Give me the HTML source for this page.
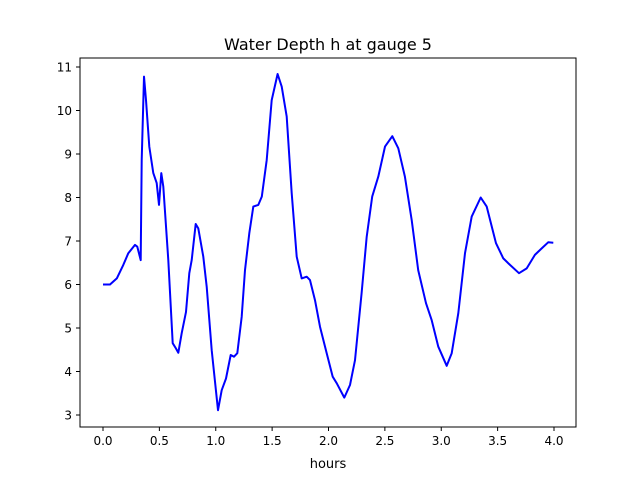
<!DOCTYPE html>
<html><head><meta charset="utf-8"><style>
body{margin:0;background:#fff}
svg text{font-family:"DejaVu Sans","Liberation Sans",sans-serif;fill:#000}
</style></head><body>
<svg id="chart" width="640" height="480" xmlns="http://www.w3.org/2000/svg">
<rect width="640" height="480" fill="#fff"/>
<text x="328" y="50" font-size="16" text-anchor="middle">Water Depth h at gauge 5</text>
<text x="328" y="468" font-size="13" text-anchor="middle">hours</text>
<g id="ticks"></g>
<polyline id="line" fill="none" stroke="#0000ff" stroke-width="2" stroke-linejoin="round"/>
<rect x="80" y="58" width="496" height="369" fill="none" stroke="#000" stroke-width="1"/>
</svg>
<script>
const hours=[0,0.062,0.122,0.18,0.224,0.284,0.304,0.334,0.343,0.364,0.381,0.411,0.446,0.476,0.497,0.517,0.535,0.579,0.618,0.647,0.668,0.698,0.736,0.765,0.787,0.822,0.845,0.890,0.920,0.964,1.020,1.053,1.091,1.133,1.162,1.191,1.230,1.259,1.298,1.333,1.377,1.408,1.452,1.496,1.549,1.585,1.629,1.674,1.718,1.762,1.807,1.836,1.880,1.925,1.984,2.037,2.073,2.140,2.191,2.235,2.294,2.339,2.388,2.442,2.501,2.566,2.619,2.678,2.738,2.796,2.865,2.915,2.974,3.048,3.093,3.151,3.211,3.270,3.350,3.403,3.486,3.550,3.610,3.690,3.758,3.831,3.891,3.949,3.994];
const depth=[6.0,6.0,6.14,6.45,6.72,6.91,6.87,6.56,8.86,10.78,10.24,9.17,8.56,8.33,7.83,8.56,8.25,6.56,4.65,4.53,4.43,4.88,5.37,6.26,6.56,7.39,7.29,6.64,5.95,4.49,3.11,3.57,3.84,4.38,4.34,4.42,5.26,6.33,7.18,7.79,7.83,8.02,8.86,10.24,10.84,10.55,9.86,8.1,6.64,6.14,6.18,6.10,5.64,5.03,4.42,3.88,3.73,3.40,3.69,4.26,5.80,7.10,8.02,8.48,9.17,9.41,9.13,8.48,7.48,6.33,5.57,5.18,4.57,4.13,4.42,5.34,6.72,7.56,8.0,7.79,6.95,6.60,6.45,6.26,6.37,6.68,6.83,6.97,6.96];
const xTicks=[0,0.5,1,1.5,2,2.5,3,3.5,4];
const yTicks=[3,4,5,6,7,8,9,10,11];
const sx=v=>103+v*112.75;
const sy=v=>415-(v-3)*43.5;
const NS="http://www.w3.org/2000/svg";
const g=document.getElementById('ticks');
xTicks.forEach(t=>{
  const l=document.createElementNS(NS,'line');
  l.setAttribute('x1',sx(t));l.setAttribute('x2',sx(t));l.setAttribute('y1',427);l.setAttribute('y2',431);l.setAttribute('stroke','#000');
  
  
  g.appendChild(l);
  const tx=document.createElementNS(NS,'text');
  tx.setAttribute('x',sx(t));tx.setAttribute('y',445);tx.setAttribute('font-size','12');tx.setAttribute('text-anchor','middle');
  tx.textContent=t.toFixed(1);
  
  
  g.appendChild(tx);
});
yTicks.forEach(t=>{
  const l=document.createElementNS(NS,'line');
  l.setAttribute('x1',76);l.setAttribute('x2',80);l.setAttribute('y1',sy(t));l.setAttribute('y2',sy(t));l.setAttribute('stroke','#000');
  
  
  g.appendChild(l);
  const tx=document.createElementNS(NS,'text');
  tx.setAttribute('x',72);tx.setAttribute('y',sy(t)+4.5);tx.setAttribute('font-size','12');tx.setAttribute('text-anchor','end');
  tx.textContent=t;
  
  
  g.appendChild(tx);
});
document.getElementById('line').setAttribute('points',hours.map((h,i)=>sx(h).toFixed(1)+','+sy(depth[i]).toFixed(1)).join(' '));
</script>
</body></html>
